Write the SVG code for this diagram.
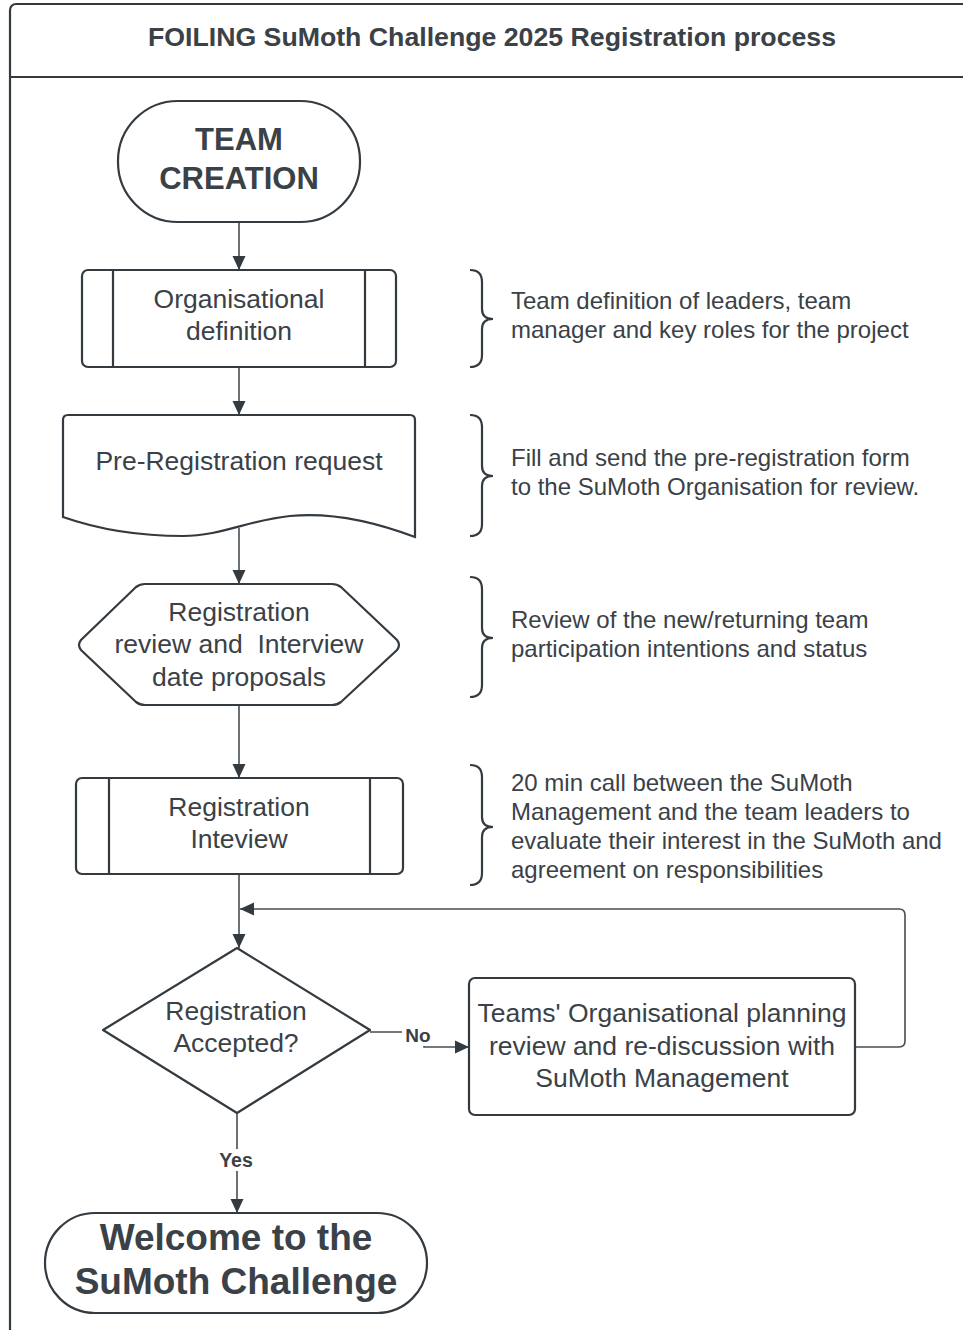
<svg xmlns="http://www.w3.org/2000/svg" width="963" height="1330" viewBox="0 0 963 1330">
<defs>
<style>
.shape{fill:#fff;stroke:#333a40;stroke-width:2.2}
.t{font-family:"Liberation Sans",Arial,sans-serif;fill:#3a4147;text-anchor:middle}
.box{font-size:26.5px}
.desc{font-family:"Liberation Sans",Arial,sans-serif;fill:#3a4147;font-size:24px}
.bold{font-weight:bold}
.conn{fill:none;stroke:#474d52;stroke-width:1.6}
.brace{fill:none;stroke:#333a40;stroke-width:2.2}
</style>
<marker id="arr" viewBox="0 0 14 14" refX="14" refY="7" markerWidth="14" markerHeight="14" markerUnits="userSpaceOnUse" orient="auto">
<path d="M0,0.5 L14,7 L0,13.5 Z" fill="#333a40"/>
</marker>
</defs>
<rect width="963" height="1330" fill="#fff"/>
<g id="frame">
<rect x="10" y="4" width="990" height="1340" rx="6" fill="none" stroke="#333a40" stroke-width="2.2"/>
<line x1="10" y1="77" x2="963" y2="77" stroke="#333a40" stroke-width="2.2"/>
<text class="t bold" x="492" y="46" font-size="26.7px">FOILING SuMoth Challenge 2025 Registration process</text>
</g>
<g id="connectors">
<path class="conn" d="M239,222 V270" marker-end="url(#arr)"/>
<path class="conn" d="M239,367 V415" marker-end="url(#arr)"/>
<path class="conn" d="M239,528 V584" marker-end="url(#arr)"/>
<path class="conn" d="M239,705 V778" marker-end="url(#arr)"/>
<path class="conn" d="M239,874 V948" marker-end="url(#arr)"/>
<path class="conn" d="M855,1047 H899 Q905,1047 905,1041 V915 Q905,909 899,909 H240" marker-end="url(#arr)"/>
<path class="conn" d="M370,1032 H424 V1047 H469" marker-end="url(#arr)"/>
<path class="conn" d="M237,1113 V1213" marker-end="url(#arr)"/>
<rect x="402" y="1025" width="33" height="21" fill="#fff"/>
<text class="t bold" x="418" y="1042" font-size="19px">No</text>
<rect x="214" y="1149" width="46" height="22" fill="#fff"/>
<text class="t bold" x="236" y="1167" font-size="19.5px">Yes</text>
</g>
<g id="team-creation">
<rect class="shape" x="118" y="101" width="242" height="121" rx="60"/>
<text class="t bold" x="239" y="150" font-size="31px">TEAM</text>
<text class="t bold" x="239" y="189" font-size="31px">CREATION</text>
</g>
<g id="org-definition">
<rect class="shape" x="82" y="270" width="314" height="97" rx="6"/>
<line x1="113" y1="270" x2="113" y2="367" stroke="#333a40" stroke-width="2.2"/>
<line x1="365" y1="270" x2="365" y2="367" stroke="#333a40" stroke-width="2.2"/>
<text class="t box" x="239" y="308">Organisational</text>
<text class="t box" x="239" y="340">definition</text>
</g>
<g id="pre-registration">
<path class="shape" d="M63,420 Q63,415 68,415 H410 Q415,415 415,420 V537 C370,520 330,512 290,516 C250,520 220,536 183,536 C140,536 100,530 63,517 Z"/>
<text class="t box" x="239" y="470">Pre-Registration request</text>
</g>
<g id="registration-review">
<path class="shape" d="M145,584 H332 Q337,584 341,587 L397,640 Q401,645 397,650 L341,702 Q337,705 332,705 H145 Q140,705 136,702 L81,650 Q77,645 81,640 L136,587 Q140,584 145,584 Z"/>
<text class="t box" x="239" y="621">Registration</text>
<text class="t box" x="239" y="653" xml:space="preserve">review and  Interview</text>
<text class="t box" x="239" y="686">date proposals</text>
</g>
<g id="registration-interview">
<rect class="shape" x="76" y="778" width="327" height="96" rx="6"/>
<line x1="109" y1="778" x2="109" y2="874" stroke="#333a40" stroke-width="2.2"/>
<line x1="370" y1="778" x2="370" y2="874" stroke="#333a40" stroke-width="2.2"/>
<text class="t box" x="239" y="816">Registration</text>
<text class="t box" x="239" y="848">Inteview</text>
</g>
<g id="registration-accepted">
<path class="shape" d="M237,948 L370,1030 L237,1113 L103,1030 Z" stroke-linejoin="round"/>
<text class="t box" x="236" y="1020">Registration</text>
<text class="t box" x="236" y="1052">Accepted?</text>
</g>
<g id="teams-review">
<rect class="shape" x="469" y="978" width="386" height="137" rx="6"/>
<text class="t box" x="662" y="1022">Teams' Organisational planning</text>
<text class="t box" x="662" y="1055">review and re-discussion with</text>
<text class="t box" x="662" y="1087">SuMoth Management</text>
</g>
<g id="welcome">
<rect class="shape" x="45" y="1213" width="382" height="100" rx="50"/>
<text class="t bold" x="236" y="1250" font-size="37px">Welcome to the</text>
<text class="t bold" x="236" y="1294" font-size="37px">SuMoth Challenge</text>
</g>
<g id="note-1">
<path class="brace" d="M470,270 Q482,270 482,282 V309 Q482,319 493,319 Q482,319 482,329 V355 Q482,367 470,367"/>
<text class="desc" x="511" y="309">Team definition of leaders, team</text>
<text class="desc" x="511" y="338">manager and key roles for the project</text>
</g>
<g id="note-2">
<path class="brace" d="M470,415 Q482,415 482,427 V466 Q482,476 493,476 Q482,476 482,486 V524 Q482,536 470,536"/>
<text class="desc" x="511" y="466">Fill and send the pre-registration form</text>
<text class="desc" x="511" y="495">to the SuMoth Organisation for review.</text>
</g>
<g id="note-3">
<path class="brace" d="M470,577 Q482,577 482,589 V628 Q482,638 493,638 Q482,638 482,648 V685 Q482,697 470,697"/>
<text class="desc" x="511" y="628">Review of the new/returning team</text>
<text class="desc" x="511" y="657">participation intentions and status</text>
</g>
<g id="note-4">
<path class="brace" d="M470,765 Q482,765 482,777 V817 Q482,827 493,827 Q482,827 482,837 V873 Q482,885 470,885"/>
<text class="desc" x="511" y="791">20 min call between the SuMoth</text>
<text class="desc" x="511" y="820">Management and the team leaders to</text>
<text class="desc" x="511" y="849">evaluate their interest in the SuMoth and</text>
<text class="desc" x="511" y="878">agreement on responsibilities</text>
</g>
</svg>
